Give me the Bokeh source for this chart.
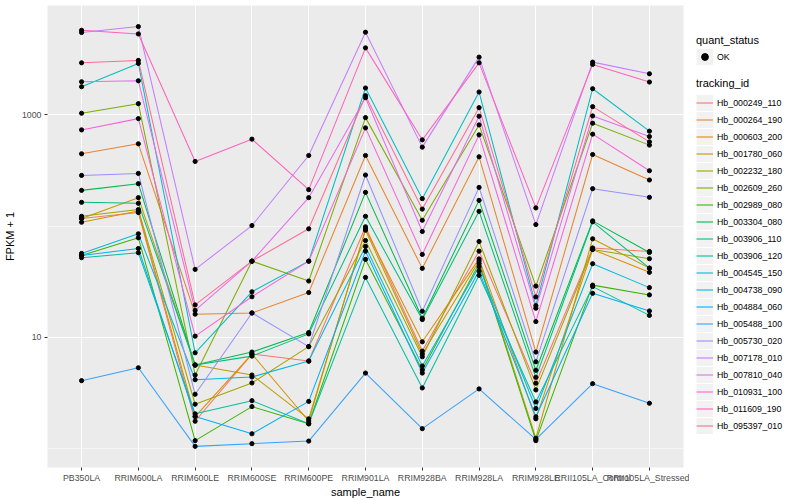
from bokeh.plotting import figure
from bokeh.layouts import row
from bokeh.models import (FactorRange, Range1d, FixedTicker, Legend, LegendItem,
                          BasicTickFormatter)
from bokeh.embed import file_html
from bokeh.resources import INLINE

samples = ["PB350LA", "RRIM600LA", "RRIM600LE", "RRIM600SE", "RRIM600PE",
           "RRIM901LA", "RRIM928BA", "RRIM928LA", "RRIM928LE",
           "RRII105LA_Control", "RRII105LA_Stressed"]

tracking_ids = ["Hb_000249_110", "Hb_000264_190", "Hb_000603_200", "Hb_001780_060",
                "Hb_002232_180", "Hb_002609_260", "Hb_002989_080", "Hb_003304_080",
                "Hb_003906_110", "Hb_003906_120", "Hb_004545_150", "Hb_004738_090",
                "Hb_004884_060", "Hb_005488_100", "Hb_005730_020", "Hb_007178_010",
                "Hb_007810_040", "Hb_010931_100", "Hb_011609_190", "Hb_095397_010"]

# FPKM + 1, one value per sample (same order as `samples`)
hb_000249_110 = [116.8, 132.2, 1.75, 7.04, 6.09, 98.4, 7.49, 59.4, 3.85, 63.5, 59.1]
hb_000264_190 = [446.9, 549.5, 16.1, 16.5, 25.2, 431.5, 41.6, 420.1, 7.34, 440.5, 259.6]
hb_000603_200 = [108.2, 136.3, 1.93, 7.04, 1.76, 94.4, 9.08, 50.6, 1.84, 61.5, 38.3]
hb_001780_060 = [116.8, 180.1, 5.61, 4.56, 1.84, 91.7, 7.04, 48.5, 1.23, 76.8, 41.8]
hb_002232_180 = [122.4, 140.6, 2.49, 3.87, 8.22, 74.1, 6.66, 72.6, 3.35, 61.5, 50.8]
hb_002609_260 = [1036, 1263, 4.56, 48.3, 32.0, 945.8, 112.7, 813.4, 28.8, 842.5, 535]
hb_002989_080 = [54.4, 78.4, 1.17, 2.37, 1.66, 50.1, 5.06, 46.1, 1.17, 29.4, 24.0]
hb_003304_080 = [209.5, 240.5, 5.61, 7.34, 11.0, 201, 14.8, 170.3, 5.03, 111.3, 57.8]
hb_003906_110 = [163.5, 160.2, 5.61, 6.75, 10.7, 122.4, 14.4, 135.7, 4.35, 109.1, 41.8]
hb_003906_120 = [51.9, 57.5, 2.04, 2.68, 1.66, 34.5, 3.49, 36.0, 2.61, 28.5, 15.7]
hb_004545_150 = [1794, 2909, 7.23, 25.6, 48.3, 1747, 176.4, 1608, 19.2, 1722, 714.2]
hb_004738_090 = [56.7, 85.1, 4.14, 4.38, 6.09, 65.5, 5.50, 43.1, 2.28, 45.8, 27.9]
hb_004884_060 = [54.4, 62.8, 1.93, 1.35, 2.64, 59.4, 4.75, 39.3, 1.92, 24.8, 17.2]
hb_005488_100 = [4.06, 5.30, 1.04, 1.10, 1.16, 4.75, 1.50, 3.42, 1.20, 3.81, 2.54]
hb_005730_020 = [285.5, 297.5, 3.06, 16.5, 8.22, 287.9, 17.1, 222.8, 6.00, 216.9, 181.3]
hb_007178_010 = [5518, 6245, 40.7, 101, 431.5, 5553, 513.2, 3313, 103.1, 2988, 2346]
hb_007810_040 = [1989, 2030, 17.4, 48.3, 180.1, 1430, 89.3, 973.4, 18.2, 979.5, 638.9]
hb_010931_100 = [733.5, 926.5, 10.2, 23.1, 48.3, 764.4, 55.5, 661.6, 13.8, 671.3, 314.6]
hb_011609_190 = [5784, 5359, 381.3, 605.4, 212.5, 4015, 596.8, 2945, 145.6, 2849, 1977]
hb_095397_010 = [2945, 3094, 19.5, 48.3, 94.4, 1490, 142.1, 1163, 23.0, 1187, 572.6]

series = [hb_000249_110, hb_000264_190, hb_000603_200, hb_001780_060, hb_002232_180,
          hb_002609_260, hb_002989_080, hb_003304_080, hb_003906_110, hb_003906_120,
          hb_004545_150, hb_004738_090, hb_004884_060, hb_005488_100, hb_005730_020,
          hb_007178_010, hb_007810_040, hb_010931_100, hb_011609_190, hb_095397_010]

colors = ["#F8766D", "#EA8331", "#D89000", "#C09B00", "#A3A500", "#7CAE00", "#39B600",
          "#00BB4E", "#00BF7D", "#00C1A3", "#00BFC4", "#00BAE0", "#00B0F6", "#35A2FF",
          "#9590FF", "#C77CFF", "#E76BF3", "#FA62DB", "#FF62BC", "#FF6C91"]

quant_status = ["OK"]

y_ticks = [10, 1000]
y_minor = [1, 100]

FONT = "Liberation Sans"
TOTAL_H = 496

p = figure(x_range=FactorRange(*samples, range_padding=0.1, range_padding_units="absolute"),
           y_range=Range1d(0.671, 9661), y_axis_type="log",
           frame_width=636, frame_height=462,
           min_border_left=44, min_border_right=6, min_border_top=5, min_border_bottom=26,
           output_backend="svg", toolbar_location=None)

p.background_fill_color = "#EBEBEB"
p.border_fill_color = "white"
p.outline_line_color = None

for vals, col in zip(series, colors):
    p.line(x=samples, y=vals, line_color=col, line_width=1.05)

px = [s for vals in series for s in samples]
py = [v for vals in series for v in vals]
p.scatter(x=px, y=py, size=4.2, color="black")

# axes
ticker = FixedTicker(ticks=y_ticks, minor_ticks=y_minor)
p.yaxis.ticker = ticker
p.ygrid.ticker = ticker
p.yaxis.formatter = BasicTickFormatter(use_scientific=False)
for ax in (p.xaxis, p.yaxis):
    ax.axis_line_color = None
    ax.major_tick_line_color = "#333333"
    ax.major_tick_out = 3
    ax.major_tick_in = 0
    ax.minor_tick_line_color = None
    ax.major_label_text_font = FONT
    ax.major_label_text_font_size = "8.8px"
    ax.major_label_text_color = "#4D4D4D"
    ax.major_label_standoff = 2
    ax.axis_label_text_font = FONT
    ax.axis_label_text_font_size = "11px"
    ax.axis_label_text_font_style = "normal"
    ax.axis_label_text_color = "black"
    ax.axis_label_standoff = 3
p.xaxis.axis_label_standoff = 0
p.xaxis.axis_label = "sample_name"
p.yaxis.axis_label = "FPKM + 1"

p.xgrid.grid_line_color = "white"
p.xgrid.grid_line_width = 1.1
p.ygrid.grid_line_color = "white"
p.ygrid.grid_line_width = 1.1
p.ygrid.minor_grid_line_color = "white"
p.ygrid.minor_grid_line_width = 0.55

# ---- legend panel (separate figure placed to the right) ----
lf = figure(width=108, height=TOTAL_H, x_range=Range1d(0, 1), y_range=Range1d(0, 1),
            x_axis_location=None, y_axis_location=None,
            min_border=0, min_border_left=0, min_border_right=0,
            min_border_top=0, min_border_bottom=0,
            output_backend="svg", toolbar_location=None)
lf.outline_line_color = None
lf.background_fill_color = "white"
lf.border_fill_color = "white"
lf.xgrid.visible = False
lf.ygrid.visible = False

# key renderers: placed outside the visible range (used for legend keys only)
off = [-10, -9]
bg = lf.line(x=off, y=off, line_color="#F2F2F2", line_width=16)
dot = lf.scatter(x=off, y=off, size=4, color="black")
key_lines = [lf.line(x=off, y=off, line_color=c, line_width=1.1) for c in colors]


def style_legend(leg):
    leg.padding = 0
    leg.margin = 0
    leg.border_line_color = None
    leg.background_fill_alpha = 0
    leg.glyph_width = 17
    leg.glyph_height = 17
    leg.label_height = 17
    leg.spacing = 0
    leg.label_standoff = 4
    leg.label_text_font = FONT
    leg.label_text_font_size = "8.8px"
    leg.label_text_color = "black"
    leg.title_text_font = FONT
    leg.title_text_font_size = "11px"
    leg.title_text_font_style = "normal"
    leg.title_text_color = "black"


leg_q = Legend(items=[LegendItem(label=q, renderers=[bg, dot]) for q in quant_status],
               title="quant_status", location=(7, TOTAL_H - 98))
style_legend(leg_q)
leg_q.title_standoff = 2

leg_t = Legend(items=[LegendItem(label=t, renderers=[bg, r])
                      for t, r in zip(tracking_ids, key_lines)],
               title="tracking_id", location=(7, TOTAL_H - 467))
style_legend(leg_t)
leg_t.title_standoff = 5

lf.add_layout(leg_q)
lf.add_layout(leg_t)

layout = row(p, lf)
open("out.html", "w").write(file_html(layout, INLINE))
